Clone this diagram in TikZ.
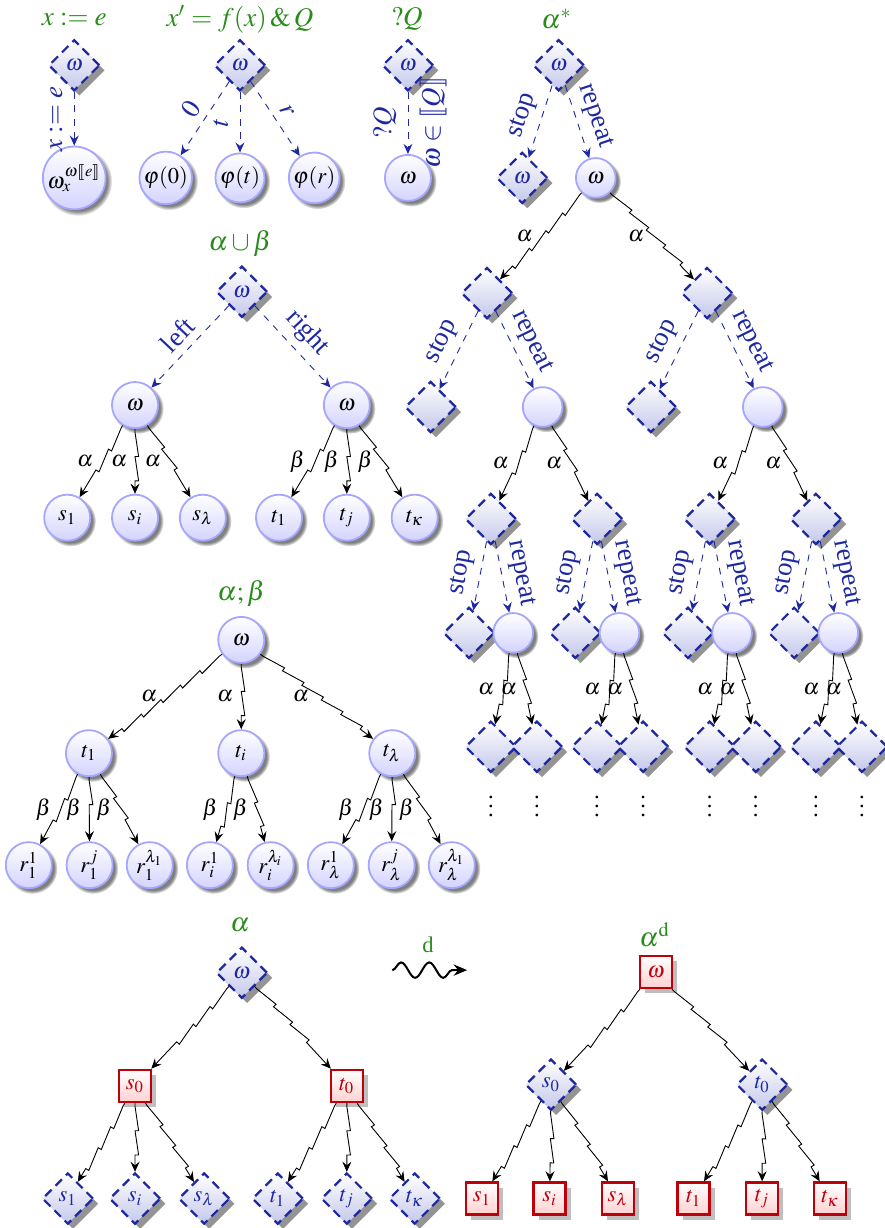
\documentclass[tikz,border=0pt]{standalone}
\usepackage{mathptmx}
\usepackage{stmaryrd}
\usepackage[no-math]{fontspec}
\setmainfont{Liberation Serif}
\usetikzlibrary{shapes.geometric,shadows,decorations.pathmorphing,arrows.meta}
\definecolor{hpgreen}{RGB}{40,140,25}
\definecolor{hpblue}{RGB}{30,40,160}
\definecolor{hpred}{RGB}{190,0,10}
\definecolor{angelfill}{RGB}{196,200,235}
\tikzset{
  world/.style={circle, draw=blue!35, line width=0.8pt, top color=white,
    bottom color=blue!17, circular drop shadow, minimum size=0.72cm, inner sep=0.5pt},
  smallworld/.style={world, minimum size=0.62cm},
  angel/.style={diamond, draw=hpblue, line width=1pt, dash pattern=on 4pt off 2.5pt,
    top color=white, bottom color=angelfill,
    drop shadow={fill=black!60, opacity=0.7}, minimum size=0.8cm, inner sep=0pt, text=hpblue},
  demon/.style={rectangle, draw=hpred, line width=1.1pt, top color=white,
    bottom color=red!18, drop shadow, minimum size=0.5cm, inner sep=1pt, text=hpred},
  gamemove/.style={->, decorate, decoration={saw, segment length=0.38cm,
    amplitude=1.6pt, pre length=0.5mm, post length=2mm}},
  pick/.style={->, dashed, draw=hpblue},
  picklab/.style={sloped, above, text=hpblue, font=\large},
  vlab/.style={midway, rotate=90, text=hpblue, inner sep=5pt, font=\large},
  gametitle/.style={text=hpgreen, font=\large}
}

\begin{document}
\begin{tikzpicture}[>={Stealth[length=4.5pt,width=4pt,inset=1.6pt]}]
  \useasboundingbox (0,0) rectangle (13.83,-19.19);

  % x := e
  \node[gametitle] (asgt) at (1.16,-0.3) {$x:=e$};
  \node[angel] (asgw) at (1.16,-1.02) {$\omega$};
  \node[world] (asgv) at (1.16,-2.78) {$\omega_x^{\omega\llbracket e\rrbracket}$};
  \draw (asgw) edge[pick] node[vlab, anchor=south] {$x:=e$} (asgv);

  % x' = f(x) & Q
  \node[gametitle] (odet) at (3.75,-0.3) {$x'=f(x)\,\&\,Q$};
  \node[angel] (odew) at (3.75,-1.02) {$\omega$};
  \node[world] (ode0) at (2.59,-2.78) {$\varphi(0)$};
  \node[world] (odet1) at (3.75,-2.78) {$\varphi(t)$};
  \node[world] (oder) at (4.91,-2.78) {$\varphi(r)$};
  \draw (odew) edge[pick] node[picklab] {$0$} (ode0)
        (odew) edge[pick] node[vlab, anchor=south] {$t$} (odet1)
        (odew) edge[pick] node[picklab] {$r$} (oder);

  % ?Q
  \node[gametitle] (tstt) at (6.36,-0.3) {$?Q$};
  \node[angel] (tstw) at (6.375,-1.02) {$\omega$};
  \node[world] (tstv) at (6.375,-2.78) {$\omega$};
  \draw (tstw) edge[pick] node[vlab, anchor=south] {$?Q$}
        node[vlab, anchor=north] {$\omega\in\llbracket Q\rrbracket$} (tstv);

  % alpha cup beta
  \node[gametitle] (chot) at (3.75,-3.81) {$\alpha\cup\beta$};
  \node[angel] (chow) at (3.78,-4.56) {$\omega$};
  \node[world] (chol) at (2.11,-6.33) {$\omega$};
  \node[world] (chor) at (5.42,-6.33) {$\omega$};
  \draw (chow) edge[pick] node[picklab] {left} (chol)
        (chow) edge[pick] node[picklab] {right} (chor);
  \node[world] (chos1) at (1.05,-8.09) {$s_1$};
  \node[world] (chosi) at (2.11,-8.09) {$s_i$};
  \node[world] (chosl) at (3.17,-8.09) {$s_\lambda$};
  \node[world] (chot1) at (4.36,-8.09) {$t_1$};
  \node[world] (chotj) at (5.42,-8.09) {$t_j$};
  \node[world] (chotk) at (6.48,-8.09) {$t_\kappa$};
  \draw (chol) edge[gamemove] node[left] {$\alpha$} (chos1)
        (chol) edge[gamemove] node[left] {$\alpha$} (chosi)
        (chol) edge[gamemove] node[left] {$\alpha$} (chosl);
  \draw (chor) edge[gamemove] node[left] {$\beta$} (chot1)
        (chor) edge[gamemove] node[left] {$\beta$} (chotj)
        (chor) edge[gamemove] node[left] {$\beta$} (chotk);

  % alpha ; beta
  \node[gametitle] (seqt) at (3.77,-9.27) {$\alpha;\beta$};
  \node[world] (seqw) at (3.77,-10.0) {$\omega$};
  \node[world] (seqt1) at (1.39,-11.77) {$t_1$};
  \node[world] (seqti) at (3.77,-11.77) {$t_i$};
  \node[world] (seqtl) at (6.13,-11.77) {$t_\lambda$};
  \draw (seqw) edge[gamemove] node[left] {$\alpha$} (seqt1)
        (seqw) edge[gamemove] node[left] {$\alpha$} (seqti)
        (seqw) edge[gamemove] node[left] {$\alpha$} (seqtl);
  \node[world] (r11) at (0.45,-13.52) {$r_1^1$};
  \node[world] (r1j) at (1.40,-13.52) {$r_1^j$};
  \node[world] (r1l) at (2.34,-13.52) {$r_1^{\lambda_1}$};
  \node[world] (ri1) at (3.28,-13.52) {$r_i^1$};
  \node[world] (ril) at (4.23,-13.52) {$r_i^{\lambda_i}$};
  \node[world] (rl1) at (5.17,-13.52) {$r_\lambda^1$};
  \node[world] (rlj) at (6.12,-13.52) {$r_\lambda^j$};
  \node[world] (rll) at (7.06,-13.52) {$r_\lambda^{\lambda_1}$};
  \draw (seqt1) edge[gamemove] node[left] {$\beta$} (r11)
        (seqt1) edge[gamemove] node[left] {$\beta$} (r1j)
        (seqt1) edge[gamemove] node[left] {$\beta$} (r1l);
  \draw (seqti) edge[gamemove] node[left] {$\beta$} (ri1)
        (seqti) edge[gamemove] node[left] {$\beta$} (ril);
  \draw (seqtl) edge[gamemove] node[left] {$\beta$} (rl1)
        (seqtl) edge[gamemove] node[left] {$\beta$} (rlj)
        (seqtl) edge[gamemove] node[left] {$\beta$} (rll);

  % alpha^*
  \node[gametitle] (loopt) at (8.70,-0.3) {$\alpha^*$};
  \node[angel] (loopw) at (8.73,-1.02) {$\omega$};
  \node[angel] (loops) at (8.16,-2.78) {$\omega$};
  \node[smallworld] (loopr) at (9.31,-2.78) {$\omega$};
  \draw (loopw) edge[pick] node[picklab] {stop} (loops)
        (loopw) edge[pick] node[picklab] {repeat} (loopr);
  \node[angel] (la) at (7.61,-4.58) {};
  \node[angel] (lb) at (11.05,-4.58) {};
  \draw (loopr) edge[gamemove] node[left] {$\alpha$} (la)
        (loopr) edge[gamemove] node[left] {$\alpha$} (lb);
  \node[angel] (las) at (6.73,-6.36) {};
  \node[smallworld] (lar) at (8.48,-6.36) {};
  \node[angel] (lbs) at (10.17,-6.36) {};
  \node[smallworld] (lbr) at (11.92,-6.36) {};
  \draw (la) edge[pick] node[picklab] {stop} (las)
        (la) edge[pick] node[picklab] {repeat} (lar)
        (lb) edge[pick] node[picklab] {stop} (lbs)
        (lb) edge[pick] node[picklab] {repeat} (lbr);
  \foreach \n/\x/\p in {a/7.67/lar, b/9.33/lar, c/11.09/lbr, d/12.75/lbr} {
    \node[angel] (m\n) at (\x,-8.11) {};
    \draw (\p) edge[gamemove] node[left] {$\alpha$} (m\n);
    \node[angel] (m\n-s) at (\x-0.34,-9.89) {};
    \node[smallworld] (m\n-r) at (\x+0.35,-9.89) {};
    \draw (m\n) edge[pick] node[picklab] {stop} (m\n-s)
          (m\n) edge[pick] node[picklab] {repeat} (m\n-r);
    \node[angel] (m\n-l) at (\x,-11.67) {};
    \node[angel] (m\n-k) at (\x+0.72,-11.67) {};
    \draw (m\n-r) edge[gamemove] node[left] {$\alpha$} (m\n-l)
          (m\n-r) edge[gamemove] node[left] {$\alpha$} (m\n-k);
    \node (m\n-dl) at (\x,-12.5) {$\vdots$};
    \node (m\n-dk) at (\x+0.72,-12.5) {$\vdots$};
  }

  % alpha, Angel at the top
  \node[gametitle] (dgt) at (3.75,-14.45) {$\alpha$};
  \node[angel] (dgw) at (3.78,-15.20) {$\omega$};
  \node[demon] (dgs) at (2.11,-16.97) {$s_0$};
  \node[demon] (dgtz) at (5.42,-16.97) {$t_0$};
  \draw (dgw) edge[gamemove] (dgs) (dgw) edge[gamemove] (dgtz);
  \node[angel] (dgs1) at (1.06,-18.73) {$s_1$};
  \node[angel] (dgsi) at (2.11,-18.73) {$s_i$};
  \node[angel] (dgsl) at (3.19,-18.73) {$s_\lambda$};
  \node[angel] (dgt1) at (4.34,-18.73) {$t_1$};
  \node[angel] (dgtj) at (5.42,-18.73) {$t_j$};
  \node[angel] (dgtk) at (6.48,-18.73) {$t_\kappa$};
  \draw (dgs) edge[gamemove] (dgs1) (dgs) edge[gamemove] (dgsi)
        (dgs) edge[gamemove] (dgsl);
  \draw (dgtz) edge[gamemove] (dgt1) (dgtz) edge[gamemove] (dgtj)
        (dgtz) edge[gamemove] (dgtk);

  % dual
  \node[gametitle, font=\normalsize] (dual) at (6.69,-14.77) {d};
  \coordinate (dfrom) at (6.13,-15.16);
  \coordinate (dto) at (7.30,-15.16);
  \draw[->, line width=0.9pt, >={Stealth[length=6pt,width=5pt,inset=2pt]}, decorate,
    decoration={snake, amplitude=0.12cm, segment length=0.44cm, post length=1.5mm}]
    (dfrom) -- (dto);

  % alpha^d, Demon at the top
  \node[gametitle] (dut) at (10.23,-14.61) {$\alpha^{\mathrm{d}}$};
  \node[demon] (duw) at (10.25,-15.19) {$\omega$};
  \node[angel] (dus) at (8.61,-16.95) {$s_0$};
  \node[angel] (dutz) at (11.91,-16.95) {$t_0$};
  \draw (duw) edge[gamemove] (dus) (duw) edge[gamemove] (dutz);
  \node[demon] (dus1) at (7.53,-18.73) {$s_1$};
  \node[demon] (dusi) at (8.59,-18.73) {$s_i$};
  \node[demon] (dusl) at (9.66,-18.73) {$s_\lambda$};
  \node[demon] (dut1) at (10.84,-18.73) {$t_1$};
  \node[demon] (dutj) at (11.91,-18.73) {$t_j$};
  \node[demon] (dutk) at (12.97,-18.73) {$t_\kappa$};
  \draw (dus) edge[gamemove] (dus1) (dus) edge[gamemove] (dusi)
        (dus) edge[gamemove] (dusl);
  \draw (dutz) edge[gamemove] (dut1) (dutz) edge[gamemove] (dutj)
        (dutz) edge[gamemove] (dutk);
\end{tikzpicture}
\end{document}
